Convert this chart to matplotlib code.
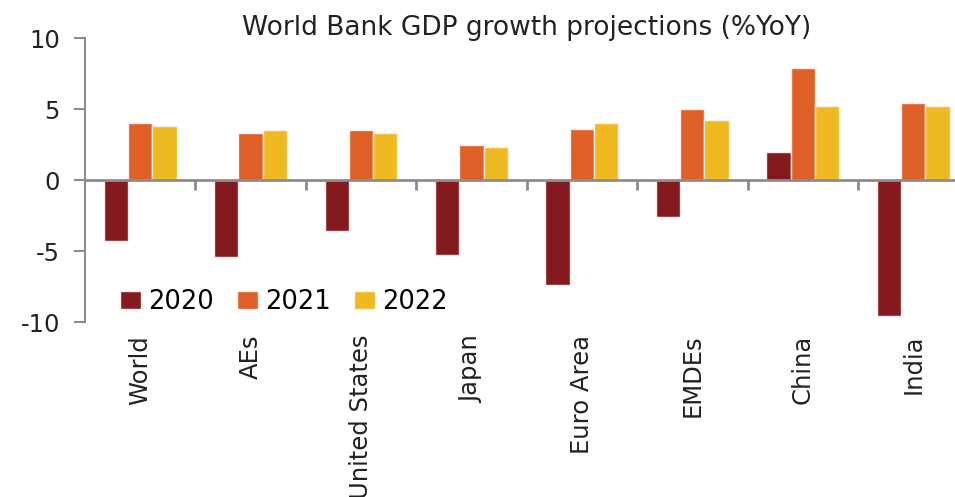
import numpy as np
import matplotlib.pyplot as plt
from matplotlib.transforms import blended_transform_factory

countries = ['World', 'AEs', 'United States', 'Japan', 'Euro Area', 'EMDEs', 'China', 'India']
years = ['2020', '2021', '2022']
g2020 = [-4.3, -5.4, -3.6, -5.3, -7.4, -2.6, 2.0, -9.6]
g2021 = [4.0, 3.3, 3.5, 2.5, 3.6, 5.0, 7.9, 5.4]
g2022 = [3.8, 3.5, 3.3, 2.3, 4.0, 4.2, 5.2, 5.2]
colors = ['#841a1d', '#de6027', '#eeba20']

plt.rcParams['font.family'] = ['DejaVu Sans']
plt.rcParams['axes.unicode_minus'] = False

fig = plt.figure(figsize=(9.55, 4.97), dpi=100)
ax = fig.add_axes([0.089, 0.352, 0.925, 0.5715])

x = np.arange(len(countries))
w = 0.22
for i, (vals, yr) in enumerate(zip([g2020, g2021, g2022], years)):
    ax.bar(x + (i - 1) * w, vals, width=w, color=colors[i], edgecolor='#fbeeee',
           linewidth=1.0, label=yr, zorder=2)

ax.set_xlim(-0.5, len(countries) - 0.5)
ax.set_ylim(-10, 10)
ax.set_yticks([-10, -5, 0, 5, 10])
ax.tick_params(axis='y', direction='out', length=8, width=1.5, color='#8c8c8c',
               labelsize=17.5, pad=10, labelcolor='#222222')

for s in ['top', 'right']:
    ax.spines[s].set_visible(False)
ax.spines['left'].set_color('#8c8c8c')
ax.spines['left'].set_linewidth(1.5)
ax.spines['bottom'].set_position(('data', 0))
ax.spines['bottom'].set_color('#8c8c8c')
ax.spines['bottom'].set_linewidth(2)
ax.spines['bottom'].set_zorder(3)

# ticks between the country groups, on the zero line
ax.set_xticks(np.arange(len(countries) - 1) + 0.5)
ax.set_xticklabels([])
ax.tick_params(axis='x', direction='out', length=7, width=2, color='#8c8c8c')

trans = blended_transform_factory(ax.transData, ax.transAxes)
for xi, name in zip(x, countries):
    ax.text(xi, -0.045, name, rotation=90, ha='center', va='top', fontsize=17.5,
            color='#222222', transform=trans)

ax.legend(loc='center left', bbox_to_anchor=(0.028, 0.072), ncol=3, frameon=False,
          fontsize=18.5, handlelength=0.8, handleheight=0.7, handletextpad=0.3,
          columnspacing=0.9, borderaxespad=0)

fig.text(0.551, 1 - 28 / 497, 'World Bank GDP growth projections (%YoY)',
         ha='center', va='center', fontsize=19, color='#222222')

fig.savefig('out.png', dpi=100)
